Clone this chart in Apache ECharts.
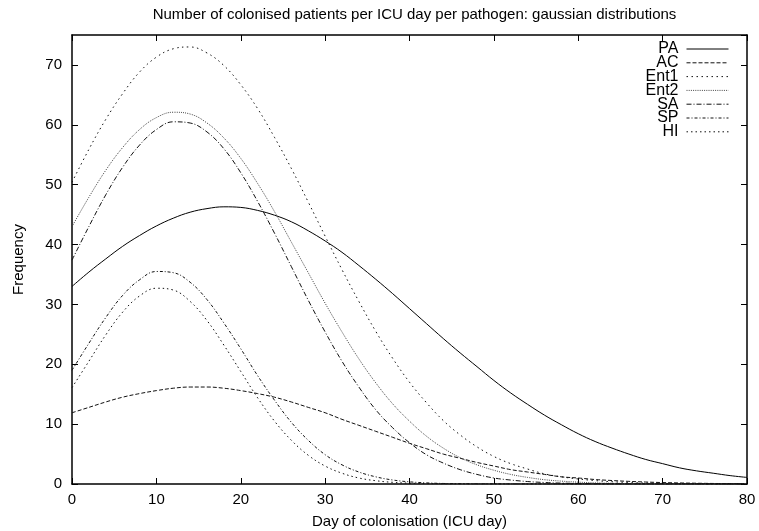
<!DOCTYPE html>
<html>
<head>
<meta charset="utf-8">
<script src="https://cdn.jsdelivr.net/npm/echarts@6/dist/echarts.min.js"></script>
<style>
html,body{margin:0;padding:0;background:#fff;}
#chart{width:759px;height:531px;}
</style>
</head>
<body>
<div id="chart"></div>
<script>
var titleText = 'Number of colonised patients per ICU day per pathogen: gaussian distributions';
var xName = 'Day of colonisation (ICU day)';
var yName = 'Frequency';
var seriesNames = ['PA', 'AC', 'Ent1', 'Ent2', 'SA', 'SP', 'HI'];
var days = [0,2,4,6,8,10,12,14,16,18,20,22,24,26,28,30,32,34,36,38,40,42,44,46,48,50,52,54,56,58,60,62,64,66,68,70,72,74,76,78,80];
var PA = [33.0,35.4,37.6,39.7,41.5,43.1,44.4,45.4,46.0,46.3,46.2,45.7,44.9,43.8,42.3,40.6,38.7,36.5,34.2,31.8,29.3,26.8,24.3,21.9,19.6,17.3,15.2,13.3,11.5,9.9,8.4,7.1,6.0,5.0,4.1,3.4,2.7,2.2,1.8,1.4,1.1];
var AC = [11.9,12.8,13.7,14.5,15.1,15.6,16.0,16.2,16.2,16.0,15.6,15.1,14.5,13.7,12.8,11.9,10.8,9.8,8.8,7.8,6.8,5.9,5.0,4.3,3.6,3.0,2.4,2.0,1.6,1.2,1.0,0.75,0.58,0.44,0.33,0.24,0.18,0.13,0.09,0.07,0.05];
var Ent1 = [50.4,55.9,60.9,65.2,68.8,71.3,72.7,73.0,72.0,69.9,66.7,62.7,57.9,52.7,47.1,41.4,35.8,30.5,25.5,21.0,17.0,13.6,10.6,8.2,6.2,4.6,3.4,2.5,1.7,1.2,0.84,0.57,0.38,0.25,0.16,0.10,0.06,0.04,0.02,0.01,0.01];
var Ent2 = [43.0,47.9,52.4,56.2,59.2,61.2,62.1,61.8,60.3,57.8,54.4,50.2,45.5,40.4,35.3,30.2,25.4,20.9,16.9,13.4,10.5,8.0,6.0,4.4,3.2,2.3,1.6,1.1,0.72,0.48,0.31,0.19,0.12,0.07,0.04,0.02,0.01,0.01,0,0,0];
var SA = [37.4,43.0,48.3,52.9,56.6,59.2,60.5,60.3,58.8,56.0,52.0,47.2,41.9,36.3,30.7,25.4,20.5,16.2,12.4,9.4,6.9,4.9,3.5,2.4,1.6,1.0,0.66,0.41,0.25,0.15,0.09,0.05,0.03,0.02,0.01,0.01,0,0,0,0,0];
var SP = [19.0,23.5,27.8,31.5,34.1,35.5,35.3,33.7,30.8,26.9,22.6,18.1,14.0,10.3,7.3,4.9,3.2,2.0,1.2,0.67,0.36,0.19,0.09,0.05,0.02,0.01,0,0,0,0,0,0,0,0,0,0,0,0,0,0,0];
var HI = [16.1,20.5,24.9,28.7,31.4,32.7,32.4,30.5,27.3,23.2,18.8,14.4,10.5,7.3,4.8,3.0,1.8,1.0,0.55,0.28,0.14,0.06,0.03,0.01,0,0,0,0,0,0,0,0,0,0,0,0,0,0,0,0,0];

var allValues = [PA, AC, Ent1, Ent2, SA, SP, HI];
var dashes = ['solid', [4,2], [1.5,3.5], [1,1.2], [5,2,1,2], [3,2,1,2], [1.5,3]];
var colors = ['#000','#111','#111','#444','#111','#111','#111'];

function pairs(vals){
  return days.map(function(d,i){ return [d, vals[i]]; });
}

var FONT = '"Liberation Sans", Arial, Helvetica, sans-serif';
var chart = echarts.init(document.getElementById('chart'), null, {renderer:'canvas'});

var series = seriesNames.map(function(n, k){
  return {
    name: n,
    type: 'line',
    data: pairs(allValues[k]),
    xAxisIndex: 0,
    yAxisIndex: 0,
    smooth: 0.4,
    symbol: 'none',
    showSymbol: false,
    animation: false,
    lineStyle: { color: colors[k], width: 1, type: dashes[k] },
    itemStyle: { color: colors[k] }
  };
});

var axisLine = { show: true, onZero: false, lineStyle: { color: '#000', width: 1.5 } };
var tick = { show: true, inside: true, length: 6, lineStyle: { color: '#000', width: 1 } };

chart.setOption({
  animation: false,
  backgroundColor: '#fff',
  title: {
    text: titleText,
    left: 409.5,
    textAlign: 'center',
    top: 2,
    textStyle: { fontFamily: FONT, fontSize: 15, fontWeight: 'normal', color: '#000' }
  },
  legend: {
    orient: 'vertical',
    right: 25,
    top: 36,
    align: 'right',
    itemWidth: 42,
    itemHeight: 14,
    itemGap: -2.2,
    itemStyle: { opacity: 0 },
    lineStyle: { width: 1 },
    textStyle: { fontFamily: FONT, fontSize: 16, color: '#000', padding: [0, 3, 0, 0] },
    data: seriesNames
  },
  grid: { left: 72, right: 12, top: 35, bottom: 47, containLabel: false, outerBoundsMode: 'none' },
  xAxis: [{
    type: 'value', min: 0, max: 80, interval: 10, position: 'bottom',
    name: xName, nameLocation: 'middle', nameGap: 30,
    nameTextStyle: { fontFamily: FONT, fontSize: 15, color: '#000' },
    axisLine: axisLine,
    axisTick: tick,
    axisLabel: { fontFamily: FONT, fontSize: 15, color: '#000', margin: 8 },
    splitLine: { show: false }
  }, {
    type: 'value', min: 0, max: 80, interval: 10, position: 'top',
    axisLine: axisLine,
    axisTick: tick,
    axisLabel: { show: false },
    splitLine: { show: false }
  }],
  yAxis: [{
    type: 'value', min: 0, max: 75, interval: 10, position: 'left',
    name: yName, nameLocation: 'middle', nameGap: 46,
    nameTextStyle: { fontFamily: FONT, fontSize: 15, color: '#000' },
    axisLine: axisLine,
    axisTick: tick,
    axisLabel: { fontFamily: FONT, fontSize: 15, color: '#000', margin: 10, showMaxLabel: false },
    splitLine: { show: false }
  }, {
    type: 'value', min: 0, max: 75, interval: 10, position: 'right',
    axisLine: axisLine,
    axisTick: tick,
    axisLabel: { show: false },
    splitLine: { show: false }
  }],
  series: series
});
</script>
</body>
</html>
